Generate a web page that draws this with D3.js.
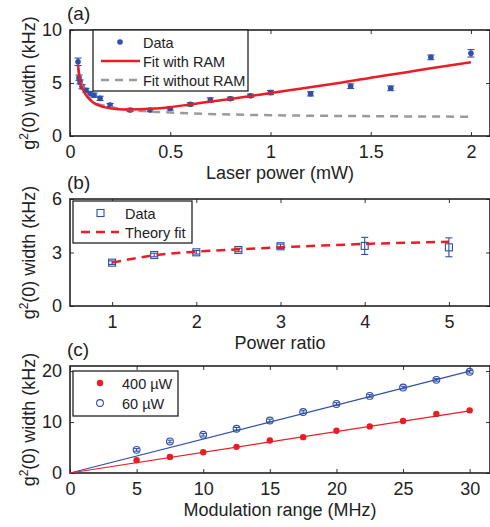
<html>
<head>
<meta charset="utf-8">
<script src="https://d3js.org/d3.v7.min.js"></script>
<style>
  body { margin: 0; background: #fff; }
  text { font-family: "Liberation Sans", Arial, sans-serif; fill: #222; }
</style>
</head>
<body>
<svg class="chart" width="490" height="527"></svg>
<script>

// (a) g2(0) width vs laser power
const aPower = [0.04, 0.045, 0.05, 0.06, 0.08, 0.1, 0.12, 0.15, 0.2, 0.3, 0.4, 0.5, 0.6, 0.7, 0.8, 0.9, 1.0, 1.2, 1.4, 1.6, 1.8, 2.0];
const aWidth = [7.0, 5.5, 5.1, 4.65, 4.3, 4.0, 3.85, 3.55, 2.92, 2.45, 2.45, 2.6, 2.99, 3.4, 3.52, 3.8, 4.1, 3.98, 4.7, 4.5, 7.42, 7.8];
const aErr = [0.35, 0.25, 0.2, 0.2, 0.2, 0.2, 0.2, 0.2, 0.15, 0.15, 0.15, 0.15, 0.15, 0.2, 0.15, 0.15, 0.2, 0.2, 0.22, 0.22, 0.22, 0.35];
const aRamX = [0.04, 0.05, 0.065, 0.09, 0.12, 0.17, 0.24, 0.3, 0.4, 0.5, 0.6, 0.8, 1.0, 1.35, 1.85, 2.0];
const aRamY = [6.7, 5.2, 4.35, 3.6, 3.1, 2.72, 2.53, 2.5, 2.56, 2.72, 2.98, 3.5, 4.05, 5.03, 6.54, 6.95];
const aNoRamX = [0.04, 0.05, 0.065, 0.09, 0.12, 0.17, 0.24, 0.3, 0.4, 0.5, 0.6, 0.8, 1.0, 1.5, 2.0];
const aNoRamY = [6.4, 5.4, 4.5, 3.7, 3.2, 2.85, 2.6, 2.45, 2.3, 2.22, 2.14, 2.03, 1.96, 1.87, 1.82];

// (b) g2(0) width vs power ratio
const bRatio = [1, 1.5, 2, 2.5, 3, 4, 5];
const bWidth = [2.43, 2.86, 3.01, 3.14, 3.35, 3.37, 3.29];
const bErr = [0.1, 0.1, 0.1, 0.1, 0.12, 0.48, 0.53];
const bFitX = [1, 1.5, 2, 2.5, 3, 4, 5];
const bFitY = [2.43, 2.84, 3.05, 3.18, 3.29, 3.48, 3.6];

// (c) g2(0) width vs modulation range
const cRange = [5, 7.5, 10, 12.5, 15, 17.5, 20, 22.5, 25, 27.5, 30];
const c400 = [2.5, 3.16, 4.08, 5.13, 6.39, 7.04, 8.28, 9.15, 10.2, 11.6, 12.3];
const c60 = [4.54, 6.19, 7.5, 8.68, 10.3, 11.97, 13.55, 15.13, 16.77, 18.28, 19.86];
const cFitX = [0, 30];
const c400Fit = [0, 12.2];
const c60Fit = [0, 20.0];

const blue = "#2f4fa8", red = "#ec1c24", gray = "#9a9a9a";
const svg = d3.select(".chart");
const left = 70, right = 491;
const legendFont = 14.5;

function panel(opt) {
  const x = d3.scaleLinear().domain(opt.xd).range([left, right]);
  const y = d3.scaleLinear().domain(opt.yd).range([opt.bottom, opt.top]);
  const g = svg.append("g");
  const fmt = d => String(d);

  // ticks on all four sides, pointing inward like MATLAB
  g.append("g").attr("transform", `translate(0,${opt.bottom})`)
    .call(d3.axisBottom(x).tickValues(opt.xt).tickFormat(fmt).tickSizeInner(-4).tickSizeOuter(0).tickPadding(9))
    .call(a => a.select(".domain").remove());
  g.append("g").attr("transform", `translate(0,${opt.top})`)
    .call(d3.axisTop(x).tickValues(opt.xt).tickFormat("").tickSizeInner(-4).tickSizeOuter(0))
    .call(a => a.select(".domain").remove());
  g.append("g").attr("transform", `translate(${left},0)`)
    .call(d3.axisLeft(y).tickValues(opt.yt).tickFormat(fmt).tickSizeInner(-4).tickSizeOuter(0).tickPadding(8))
    .call(a => a.select(".domain").remove());
  g.append("g").attr("transform", `translate(${right - 1},0)`)
    .call(d3.axisRight(y).tickValues(opt.yt).tickFormat("").tickSizeInner(-4).tickSizeOuter(0))
    .call(a => a.select(".domain").remove());
  g.selectAll(".tick text").attr("font-size", 18).attr("font-family", "Liberation Sans, Arial").attr("fill", "#222");
  g.selectAll(".tick line").attr("stroke", "#333").attr("stroke-width", 1);

  g.append("rect").attr("x", left).attr("y", opt.top)
    .attr("width", right - left - 1).attr("height", opt.bottom - opt.top)
    .attr("fill", "none").attr("stroke", "#222").attr("stroke-width", 1.6);

  g.append("text").attr("x", 280).attr("y", opt.bottom + 43)
    .attr("text-anchor", "middle").attr("font-size", 18).text(opt.xlabel);

  const yl = g.append("text")
    .attr("transform", `translate(35,${(opt.top + opt.bottom) / 2}) rotate(-90)`)
    .attr("text-anchor", "middle").attr("font-size", 18);
  yl.append("tspan").text("g");
  yl.append("tspan").attr("font-size", 12).attr("dy", -7).text("2");
  yl.append("tspan").attr("dy", 7).text("(0) width (kHz)");

  g.append("text").attr("x", 67).attr("y", opt.top - 10).attr("font-size", 19).text(opt.tag);
  return {g, x, y};
}

function errorBars(g, x, y, xs, ys, es, color, cap) {
  const d = xs.map((v, i) => ({x: v, y: ys[i], e: es[i]}));
  const eg = g.append("g").attr("stroke", color).attr("stroke-width", 1.1);
  eg.selectAll("line.v").data(d).join("line").attr("class", "v")
    .attr("x1", p => x(p.x)).attr("x2", p => x(p.x))
    .attr("y1", p => y(p.y - p.e)).attr("y2", p => y(p.y + p.e));
  eg.selectAll("line.t").data(d).join("line").attr("class", "t")
    .attr("x1", p => x(p.x) - cap).attr("x2", p => x(p.x) + cap)
    .attr("y1", p => y(p.y + p.e)).attr("y2", p => y(p.y + p.e));
  eg.selectAll("line.b").data(d).join("line").attr("class", "b")
    .attr("x1", p => x(p.x) - cap).attr("x2", p => x(p.x) + cap)
    .attr("y1", p => y(p.y - p.e)).attr("y2", p => y(p.y - p.e));
}

// ---------- (a)
{
  const {g, x, y} = panel({top: 30, bottom: 136, xd: [0, 2.1], yd: [0, 10],
    xt: [0, 0.5, 1, 1.5, 2], yt: [0, 5, 10], xlabel: "Laser power (mW)", tag: "(a)"});
  errorBars(g, x, y, aPower, aWidth, aErr, blue, 3.5);
  g.selectAll("circle.d").data(aPower).join("circle").attr("class", "d")
    .attr("cx", d => x(d)).attr("cy", (d, i) => y(aWidth[i])).attr("r", 2.8).attr("fill", blue);
  const line = d3.line().x(d => x(d[0])).y(d => y(d[1])).curve(d3.curveMonotoneX);
  g.append("path").datum(aNoRamX.map((v, i) => [v, aNoRamY[i]])).attr("d", line)
    .attr("fill", "none").attr("stroke", gray).attr("stroke-width", 2.5).attr("stroke-dasharray", "8,6");
  g.append("path").datum(aRamX.map((v, i) => [v, aRamY[i]])).attr("d", line)
    .attr("fill", "none").attr("stroke", red).attr("stroke-width", 2.5);

  const lg = g.append("g");
  lg.append("rect").attr("x", 93).attr("y", 30).attr("width", 155).attr("height", 61)
    .attr("fill", "#fff").attr("stroke", "#222").attr("stroke-width", 1.3);
  lg.append("circle").attr("cx", 120).attr("cy", 42).attr("r", 2.8).attr("fill", blue);
  lg.append("line").attr("x1", 101).attr("x2", 140).attr("y1", 61).attr("y2", 61)
    .attr("stroke", red).attr("stroke-width", 2.5);
  lg.append("line").attr("x1", 101).attr("x2", 140).attr("y1", 80).attr("y2", 80)
    .attr("stroke", gray).attr("stroke-width", 2.5).attr("stroke-dasharray", "8,6");
  const lt = [["Data", 42], ["Fit with RAM", 61], ["Fit without RAM", 80]];
  lg.selectAll("text").data(lt).join("text").attr("x", 143).attr("y", d => d[1] + 5.5)
    .attr("font-size", legendFont).text(d => d[0]);
}

// ---------- (b)
{
  const {g, x, y} = panel({top: 199, bottom: 306, xd: [0.5, 5.5], yd: [0, 6],
    xt: [1, 2, 3, 4, 5], yt: [0, 3, 6], xlabel: "Power ratio", tag: "(b)"});
  errorBars(g, x, y, bRatio, bWidth, bErr, blue, 3.5);
  g.selectAll("rect.d").data(bRatio).join("rect").attr("class", "d")
    .attr("x", d => x(d) - 3.5).attr("y", (d, i) => y(bWidth[i]) - 3.5)
    .attr("width", 7).attr("height", 7).attr("fill", "none").attr("stroke", blue).attr("stroke-width", 1.1);
  const line = d3.line().x(d => x(d[0])).y(d => y(d[1])).curve(d3.curveMonotoneX);
  g.append("path").datum(bFitX.map((v, i) => [v, bFitY[i]])).attr("d", line)
    .attr("fill", "none").attr("stroke", red).attr("stroke-width", 2.5).attr("stroke-dasharray", "9,6");

  const lg = g.append("g");
  lg.append("rect").attr("x", 73).attr("y", 201).attr("width", 119).attr("height", 42)
    .attr("fill", "#fff").attr("stroke", "#222").attr("stroke-width", 1.3);
  lg.append("rect").attr("x", 97).attr("y", 209.5).attr("width", 7).attr("height", 7)
    .attr("fill", "none").attr("stroke", blue).attr("stroke-width", 1.1);
  lg.append("line").attr("x1", 81).attr("x2", 119).attr("y1", 232).attr("y2", 232)
    .attr("stroke", red).attr("stroke-width", 2.5).attr("stroke-dasharray", "9,6");
  lg.append("text").attr("x", 125).attr("y", 218.5).attr("font-size", legendFont).text("Data");
  lg.append("text").attr("x", 125).attr("y", 237.5).attr("font-size", legendFont).text("Theory fit");
}

// ---------- (c)
{
  const {g, x, y} = panel({top: 366, bottom: 473, xd: [0, 31.6], yd: [0, 21],
    xt: [0, 5, 10, 15, 20, 25, 30], yt: [0, 10, 20], xlabel: "Modulation range (MHz)", tag: "(c)"});
  const line = d3.line().x(d => x(d[0])).y(d => y(d[1]));
  g.append("path").datum(cFitX.map((v, i) => [v, c60Fit[i]])).attr("d", line)
    .attr("fill", "none").attr("stroke", blue).attr("stroke-width", 1.2);
  g.append("path").datum(cFitX.map((v, i) => [v, c400Fit[i]])).attr("d", line)
    .attr("fill", "none").attr("stroke", red).attr("stroke-width", 1.2);
  g.selectAll("circle.r").data(cRange).join("circle").attr("class", "r")
    .attr("cx", d => x(d)).attr("cy", (d, i) => y(c400[i])).attr("r", 3.2).attr("fill", red);
  errorBars(g, x, y, cRange, c60, cRange.map(() => 0.25), blue, 2.5);
  g.selectAll("circle.b").data(cRange).join("circle").attr("class", "b")
    .attr("cx", d => x(d)).attr("cy", (d, i) => y(c60[i])).attr("r", 3.4)
    .attr("fill", "none").attr("stroke", blue).attr("stroke-width", 1.1);

  const lg = g.append("g");
  lg.append("rect").attr("x", 73).attr("y", 371).attr("width", 105).attr("height", 45)
    .attr("fill", "#fff").attr("stroke", "#222").attr("stroke-width", 1.3);
  lg.append("circle").attr("cx", 100).attr("cy", 383).attr("r", 3.2).attr("fill", red);
  lg.append("circle").attr("cx", 100).attr("cy", 403).attr("r", 3.4)
    .attr("fill", "none").attr("stroke", blue).attr("stroke-width", 1.1);
  lg.append("text").attr("x", 122).attr("y", 388.5).attr("font-size", legendFont).text("400 \u00b5W");
  lg.append("text").attr("x", 122).attr("y", 408.5).attr("font-size", legendFont).text("60 \u00b5W");
}

</script>
</body>
</html>
